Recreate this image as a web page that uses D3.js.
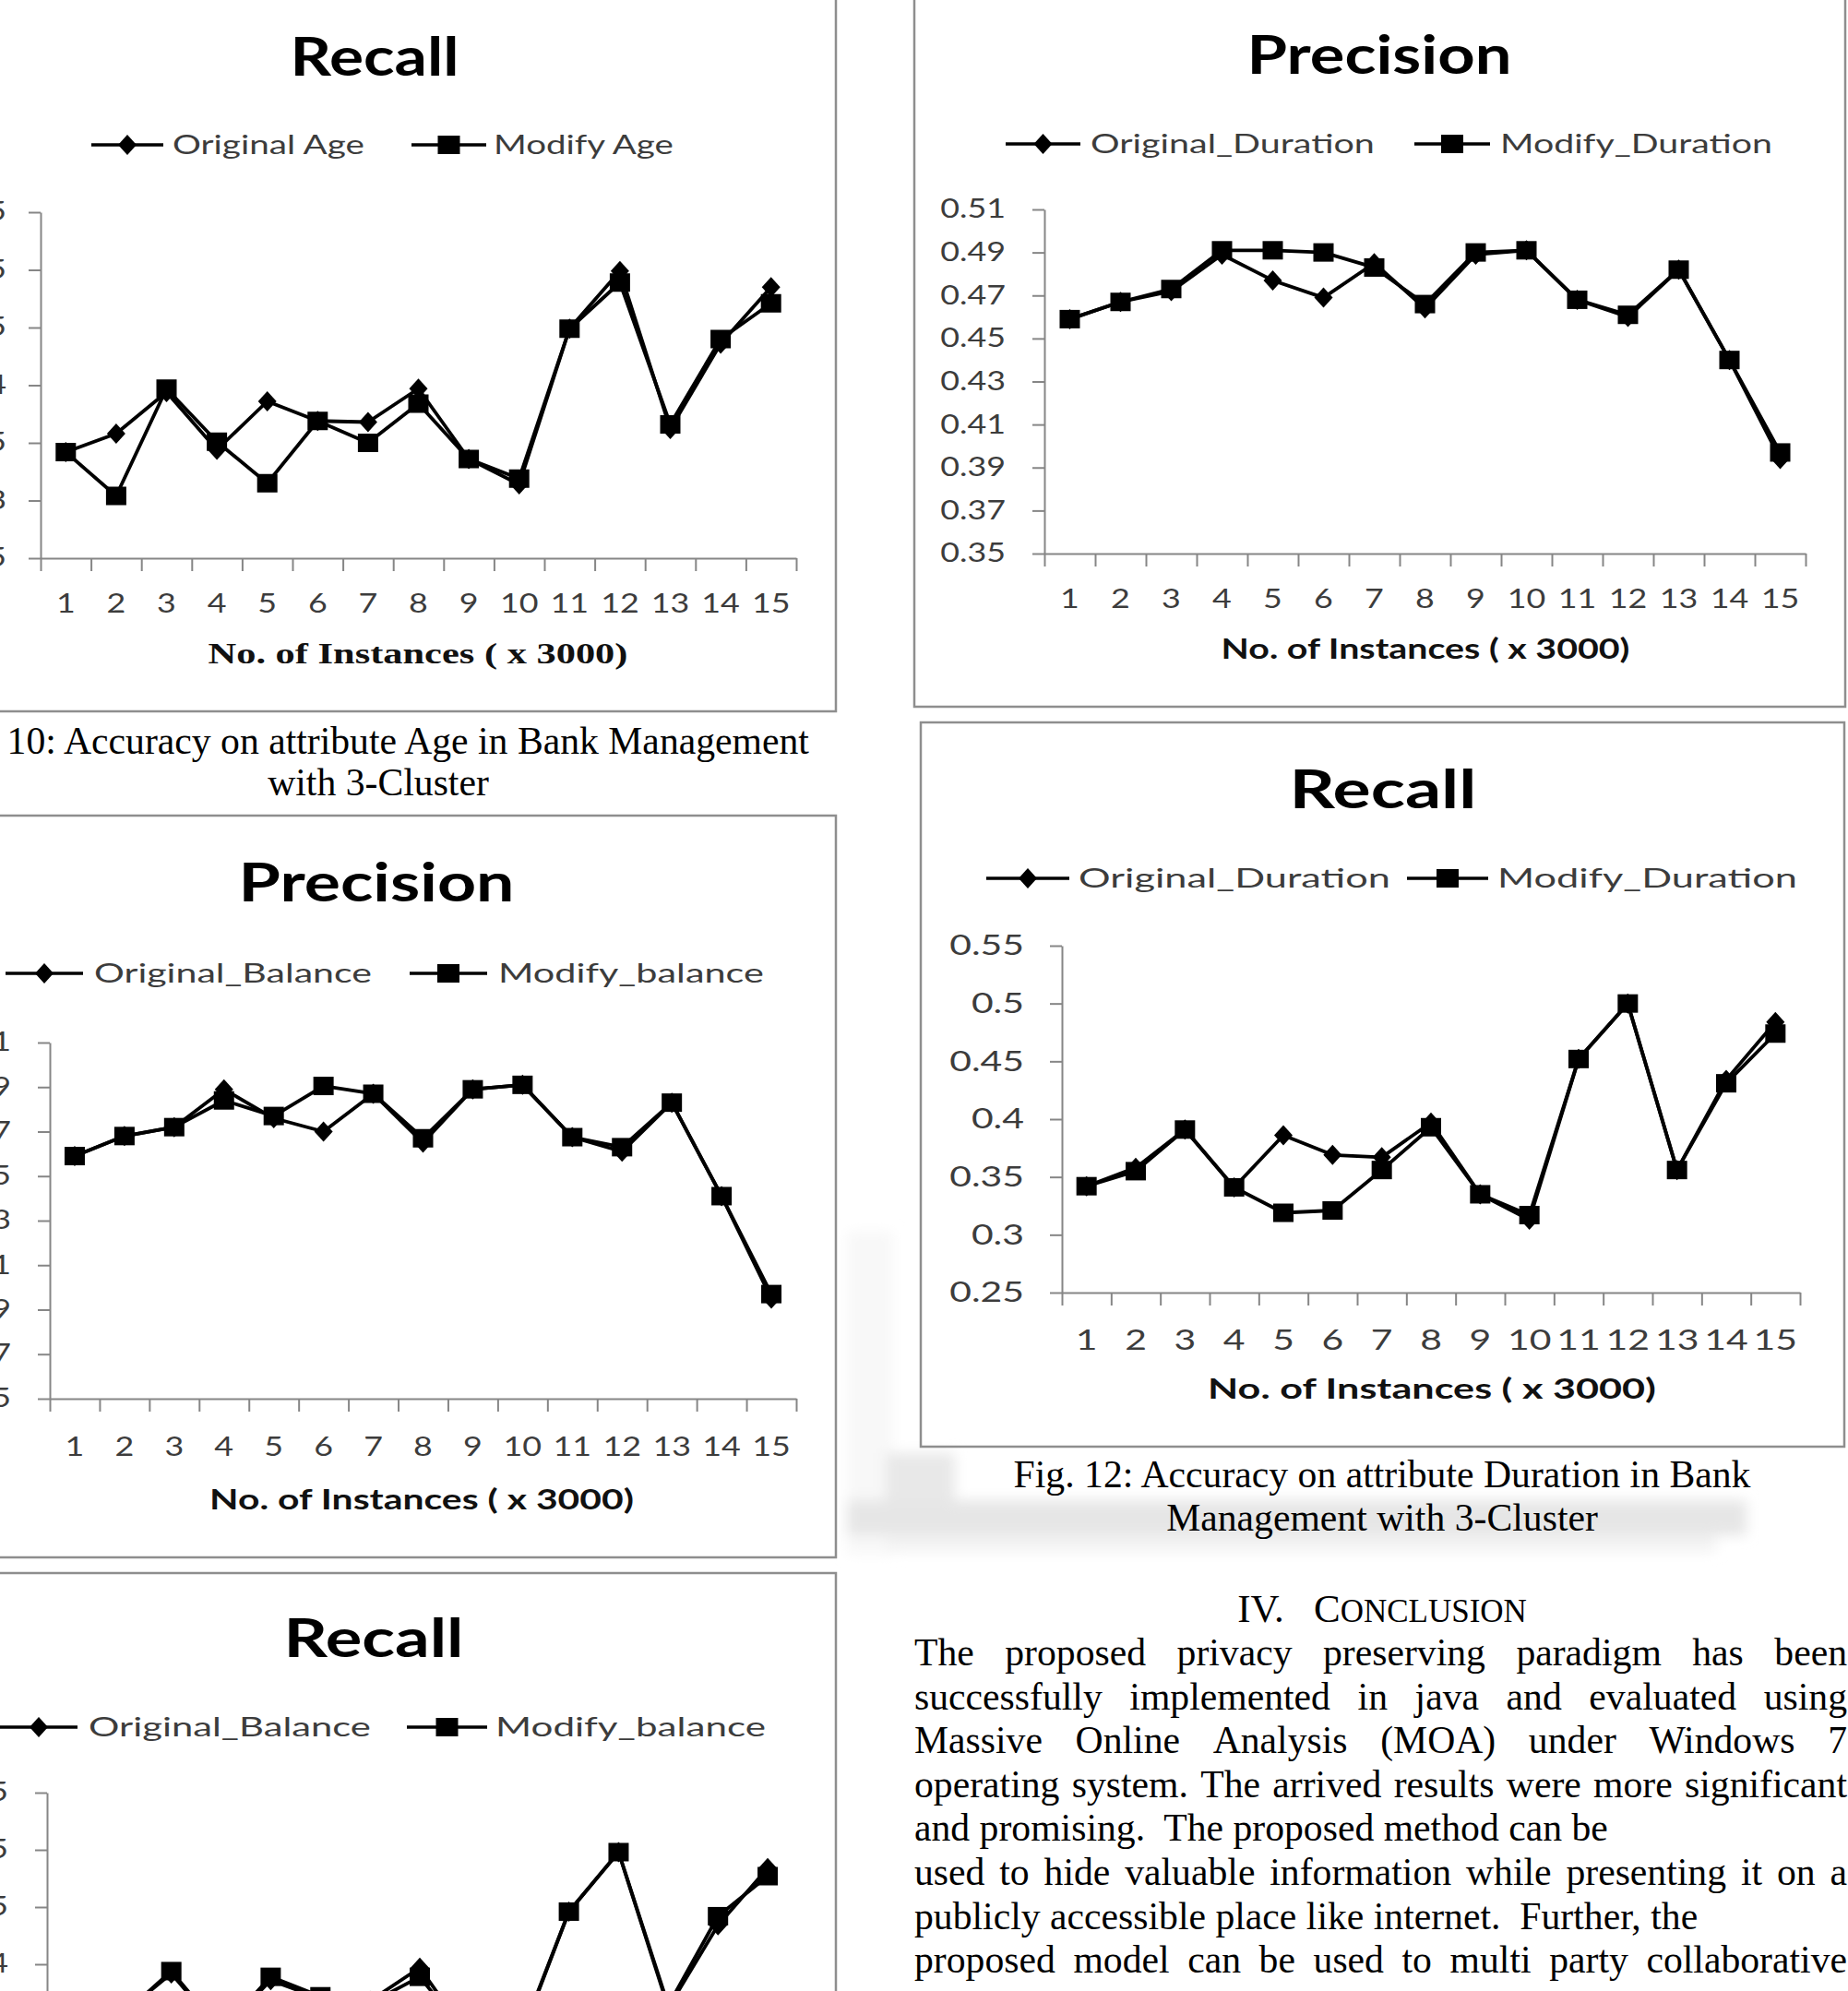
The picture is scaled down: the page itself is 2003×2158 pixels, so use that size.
<!DOCTYPE html>
<html><head><meta charset="utf-8">
<script src="https://cdn.jsdelivr.net/npm/d3@7"></script>
<style>html,body{margin:0;padding:0;background:#fff;overflow:hidden}</style>
</head><body>
<svg id="page" width="2003" height="2158" xmlns="http://www.w3.org/2000/svg"></svg>
<script>
// ---------------- DATA ----------------
const categories = ["1","2","3","4","5","6","7","8","9","10","11","12","13","14","15"];

const recallTicks = [0.25, 0.3, 0.35, 0.4, 0.45, 0.5, 0.55];
const recallTickLabels = ["0.25","0.3","0.35","0.4","0.45","0.5","0.55"];
const precisionTicks = [0.35, 0.37, 0.39, 0.41, 0.43, 0.45, 0.47, 0.49, 0.51];
const precisionTickLabels = ["0.35","0.37","0.39","0.41","0.43","0.45","0.47","0.49","0.51"];

const ageRecallOriginal = [0.342, 0.358, 0.394, 0.344, 0.386, 0.369, 0.368, 0.397, 0.336, 0.314, 0.449, 0.499, 0.362, 0.436, 0.485];
const ageRecallModify   = [0.342, 0.304, 0.397, 0.351, 0.315, 0.369, 0.350, 0.384, 0.336, 0.319, 0.449, 0.489, 0.366, 0.440, 0.471];

const durationPrecisionOriginal = [0.459, 0.467, 0.472, 0.489, 0.477, 0.469, 0.485, 0.464, 0.489, 0.491, 0.468, 0.460, 0.482, 0.440, 0.394];
const durationPrecisionModify   = [0.459, 0.467, 0.473, 0.491, 0.491, 0.490, 0.483, 0.466, 0.490, 0.491, 0.468, 0.461, 0.482, 0.440, 0.397];

const balancePrecisionOriginal = [0.459, 0.468, 0.472, 0.489, 0.476, 0.470, 0.487, 0.465, 0.489, 0.491, 0.4675, 0.461, 0.483, 0.441, 0.395];
const balancePrecisionModify   = [0.459, 0.468, 0.472, 0.484, 0.477, 0.4905, 0.487, 0.467, 0.489, 0.491, 0.4675, 0.463, 0.483, 0.441, 0.397];

const durationRecallOriginal = [0.342, 0.358, 0.391, 0.341, 0.386, 0.369, 0.367, 0.397, 0.335, 0.313, 0.452, 0.500, 0.356, 0.434, 0.484];
const durationRecallModify   = [0.342, 0.355, 0.391, 0.341, 0.319, 0.321, 0.356, 0.393, 0.335, 0.317, 0.452, 0.500, 0.356, 0.431, 0.474];

const balanceRecallOriginal = [0.342, 0.356, 0.392, 0.341, 0.386, 0.370, 0.368, 0.397, 0.335, 0.332, 0.446, 0.498, 0.362, 0.434, 0.484];
const balanceRecallModify   = [0.342, 0.355, 0.394, 0.342, 0.389, 0.372, 0.366, 0.389, 0.335, 0.334, 0.446, 0.498, 0.364, 0.442, 0.477];

const xAxisTitle = "No. of Instances ( x 3000)";

const caption10 = ["Fig. 10: Accuracy on attribute Age in Bank Management", "with 3-Cluster"];
const caption12 = ["Fig. 12: Accuracy on attribute Duration in Bank", "Management with 3-Cluster"];
const conclusionLines = [
  "The proposed privacy preserving paradigm has been",
  "successfully implemented in java and evaluated using",
  "Massive Online Analysis (MOA) under Windows 7",
  "operating system. The arrived results were more significant",
  "and promising.  The proposed method can be",
  "used to hide valuable information while presenting it on a",
  "publicly accessible place like internet.  Further, the",
  "proposed model can be used to multi party collaborative"
];
const justified = [true, true, true, true, false, true, false, true];

// ---------------- DRAWING ----------------
const svg = d3.select('#page');
const SANS = "Lato, 'Open Sans', sans-serif";
const SERIF = "'Liberation Serif', 'Times New Roman', serif";
const AXIS = "#868686", BORDER = "#8e8e8e", LABEL = "#3c3c3c";

const defs = svg.append('defs');
defs.append('filter').attr('id','blur').attr('x','-20%').attr('y','-50%').attr('width','140%').attr('height','200%')
  .append('feGaussianBlur').attr('stdDeviation', 7);

// faint background smudges near figure 12 caption
const smudge = svg.append('g').attr('filter','url(#blur)');
smudge.append('rect').attr('x',918).attr('y',1335).attr('width',50).attr('height',350).attr('fill','#f8f8f8');
smudge.append('rect').attr('x',960).attr('y',1575).attr('width',75).attr('height',55).attr('fill','#e8e8e8');
smudge.append('rect').attr('x',918).attr('y',1626).attr('width',975).attr('height',38).attr('fill','#e6e6e6');
smudge.append('rect').attr('x',960).attr('y',1664).attr('width',900).attr('height',18).attr('fill','#f3f3f3');

function fit(sel, x, y, target) {
  const w = sel.node().getBBox().width;
  const k = target / w;
  sel.attr('transform', `translate(${x},${y}) scale(${k},1)`);
}

function drawChart(cfg) {
  const g = svg.append('g');
  const TS = cfg.tickStretch || 1.28;
  const TF = cfg.tickFont || 28;
  g.append('rect').attr('x', cfg.box[0]).attr('y', cfg.box[1])
    .attr('width', cfg.box[2]-cfg.box[0]).attr('height', cfg.box[3]-cfg.box[1])
    .attr('fill','none').attr('stroke', BORDER).attr('stroke-width', 2.5);

  const t = g.append('text').text(cfg.title).attr('text-anchor','middle')
    .attr('font-family', SANS).attr('font-weight', 700).attr('font-size', 58).attr('fill','#000');
  fit(t, cfg.titleX, cfg.titleY, cfg.titleW);

  const x = d3.scaleBand().domain(categories).range([cfg.x0, cfg.x1]).padding(0);
  const xb = d3.scaleLinear().domain([0, categories.length]).range([cfg.x0, cfg.x1]);
  const y = d3.scaleLinear().domain([cfg.ticks[0], cfg.ticks[cfg.ticks.length-1]]).range([cfg.yBot, cfg.yTop]);

  const ya = g.append('g').attr('transform', `translate(${cfg.x0},0)`)
    .call(d3.axisLeft(y).tickValues(cfg.ticks).tickFormat((d,i)=>cfg.tickLabels[i]).tickSize(13).tickSizeOuter(0).tickPadding(cfg.yGap-13));
  ya.select('.domain').attr('stroke', AXIS).attr('stroke-width', 2);
  ya.selectAll('.tick line').attr('stroke', AXIS).attr('stroke-width', 2);
  ya.selectAll('.tick text').attr('font-family', SANS).attr('font-size', TF).attr('fill', LABEL)
    .attr('x', -cfg.yGap / TS).attr('transform', `scale(${TS},1)`);

  const xa = g.append('g').attr('transform', `translate(0,${cfg.yBot})`)
    .call(d3.axisBottom(xb).tickValues(d3.range(categories.length+1)).tickFormat('').tickSize(14).tickSizeOuter(0));
  xa.select('.domain').attr('stroke', AXIS).attr('stroke-width', 2);
  xa.selectAll('.tick line').attr('stroke', AXIS).attr('stroke-width', 2);

  const xl = g.append('g').attr('transform', `translate(0,${cfg.yBot})`)
    .call(d3.axisBottom(x).tickSize(0));
  xl.select('.domain').remove();
  xl.selectAll('.tick text').attr('font-family', SANS).attr('font-size', TF).attr('fill', LABEL)
    .attr('y', cfg.xLabelY - cfg.yBot).attr('dy', 0)
    .attr('transform', `scale(${TS},1)`);

  const xt = g.append('text').text(xAxisTitle).attr('text-anchor','middle')
    .attr('font-family', cfg.serifTitle ? SERIF : SANS).attr('font-weight', 700)
    .attr('font-size', cfg.serifTitle ? 32 : 31).attr('fill', '#111');
  fit(xt, cfg.xTitleX, cfg.xTitleY, cfg.xTitleW);

  const cx = (d,i) => x(categories[i]) + x.bandwidth()/2;
  const line = d3.line().x(cx).y(d => y(d));
  const diamond = (px, py) => `M${px},${py-11}L${px+10},${py}L${px},${py+11}L${px-10},${py}Z`;

  g.append('path').attr('d', line(cfg.orig)).attr('fill','none').attr('stroke','#000').attr('stroke-width',3.8).attr('stroke-linejoin','round');
  g.append('g').selectAll('path').data(cfg.orig).join('path')
    .attr('d', (d,i) => diamond(cx(d,i), y(d))).attr('fill','#000');
  g.append('path').attr('d', line(cfg.mod)).attr('fill','none').attr('stroke','#000').attr('stroke-width',3.8).attr('stroke-linejoin','round');
  g.append('g').selectAll('rect').data(cfg.mod).join('rect')
    .attr('x', (d,i) => cx(d,i) - 11).attr('y', d => y(d) - 10)
    .attr('width', 22).attr('height', 20).attr('fill','#000');

  cfg.legend.forEach((it, idx) => {
    const ly = cfg.legendY;
    g.append('line').attr('x1', it.l0).attr('x2', it.l1).attr('y1', ly).attr('y2', ly)
      .attr('stroke','#000').attr('stroke-width', 3.5);
    const mx = (it.l0 + it.l1) / 2;
    if (idx === 0) g.append('path').attr('d', diamond(mx, ly)).attr('fill','#000');
    else g.append('rect').attr('x', mx-12).attr('y', ly-10).attr('width', 24).attr('height', 20).attr('fill','#000');
    const lt = g.append('text').text(it.name).attr('font-family', SANS).attr('font-size', 29).attr('fill', LABEL);
    fit(lt, it.tx, ly + 10, it.tw);
  });
}

function drawText() {
  const F = 41.7;
  caption10.forEach((s, i) => {
    svg.append('text').text(s).attr('x', i ? 410 : 404).attr('y', i ? 862 : 817)
      .attr('text-anchor','middle').attr('font-family', SERIF).attr('font-size', F).attr('fill','#000');
  });
  caption12.forEach((s, i) => {
    svg.append('text').text(s).attr('x', 1498).attr('y', i ? 1659 : 1612)
      .attr('text-anchor','middle').attr('font-family', SERIF).attr('font-size', F).attr('fill','#000');
  });
  const h = svg.append('text').attr('x', 1498).attr('y', 1758).attr('text-anchor','middle')
    .attr('font-family', SERIF).attr('fill','#000').style('white-space','pre');
  h.append('tspan').attr('font-size', 43).text('IV.   C');
  h.append('tspan').attr('font-size', 35).text('ONCLUSION');

  const left = 991, right = 2002;
  conclusionLines.forEach((s, i) => {
    const yy = 1805 + i * 47.6;
    const tx = svg.append('text').attr('y', yy).attr('font-family', SERIF).attr('font-size', F)
      .attr('fill','#000').style('white-space','pre');
    if (!justified[i]) {
      tx.attr('x', left).text(s);
      return;
    }
    const words = s.split(/\s+/);
    const widths = words.map(w => {
      const m = svg.append('text').attr('font-family', SERIF).attr('font-size', F).text(w);
      const wd = m.node().getComputedTextLength(); m.remove(); return wd;
    });
    const total = d3.sum(widths);
    const gap = (right - left - total) / (words.length - 1);
    let px = left;
    words.forEach((w, k) => { tx.append('tspan').attr('x', px).text(w); px += widths[k] + gap; });
  });
}

function render() {
  drawChart({
    box: [-10, -10, 906, 771], title: "Recall", titleX: 406, titleY: 82, titleW: 183,
    x0: 44, x1: 863, yTop: 230, yBot: 605, ticks: recallTicks, tickLabels: recallTickLabels, yGap: 37,
    xLabelY: 664, xTitleX: 453, xTitleY: 719, xTitleW: 455, serifTitle: true,
    orig: ageRecallOriginal, mod: ageRecallModify, legendY: 157,
    legend: [{name: "Original Age", l0: 99, l1: 177, tx: 187, tw: 208}, {name: "Modify Age", l0: 446, l1: 527, tx: 535, tw: 195}]
  });
  drawChart({
    box: [991, -10, 2000, 766], title: "Precision", titleX: 1495, titleY: 80, titleW: 287,
    x0: 1132, x1: 1957, yTop: 227, yBot: 600, ticks: precisionTicks, tickLabels: precisionTickLabels, yGap: 42,
    xLabelY: 659, xTitleX: 1545, xTitleY: 714, xTitleW: 443, serifTitle: false,
    orig: durationPrecisionOriginal, mod: durationPrecisionModify, legendY: 156,
    legend: [{name: "Original_Duration", l0: 1090, l1: 1171, tx: 1182, tw: 308}, {name: "Modify_Duration", l0: 1533, l1: 1615, tx: 1626, tw: 295}]
  });
  drawChart({
    box: [-10, 884, 906, 1688], title: "Precision", titleX: 408, titleY: 977, titleW: 299,
    x0: 54, x1: 863, yTop: 1130, yBot: 1516, ticks: precisionTicks, tickLabels: precisionTickLabels, yGap: 42,
    xLabelY: 1578, xTitleX: 457, xTitleY: 1636, xTitleW: 460, serifTitle: false,
    orig: balancePrecisionOriginal, mod: balancePrecisionModify, legendY: 1055,
    legend: [{name: "Original_Balance", l0: 6, l1: 90, tx: 102, tw: 301}, {name: "Modify_balance", l0: 444, l1: 528, tx: 540, tw: 288}]
  });
  drawChart({
    box: [998, 783, 1999, 1568], title: "Recall", titleX: 1499, titleY: 876, titleW: 203,
    x0: 1151, x1: 1951, yTop: 1025, yBot: 1401, ticks: recallTicks, tickLabels: recallTickLabels, yGap: 41,
    tickFont: 31, tickStretch: 1.32,
    xLabelY: 1463, xTitleX: 1552, xTitleY: 1516, xTitleW: 486, serifTitle: false,
    orig: durationRecallOriginal, mod: durationRecallModify, legendY: 952,
    legend: [{name: "Original_Duration", l0: 1069, l1: 1159, tx: 1169, tw: 338}, {name: "Modify_Duration", l0: 1525, l1: 1613, tx: 1623, tw: 325}]
  });
  drawChart({
    box: [-10, 1705, 906, 2400], title: "Recall", titleX: 405, titleY: 1796, titleW: 195,
    x0: 51, x1: 859, yTop: 1943, yBot: 2315, ticks: recallTicks, tickLabels: recallTickLabels, yGap: 42,
    xLabelY: 2375, xTitleX: 455, xTitleY: 2430, xTitleW: 455, serifTitle: false,
    orig: balanceRecallOriginal, mod: balanceRecallModify, legendY: 1872,
    legend: [{name: "Original_Balance", l0: 0, l1: 84, tx: 96, tw: 306}, {name: "Modify_balance", l0: 441, l1: 528, tx: 537, tw: 293}]
  });
  drawText();
}

if (document.fonts && document.fonts.ready) document.fonts.ready.then(render); else render();
</script>
</body></html>
